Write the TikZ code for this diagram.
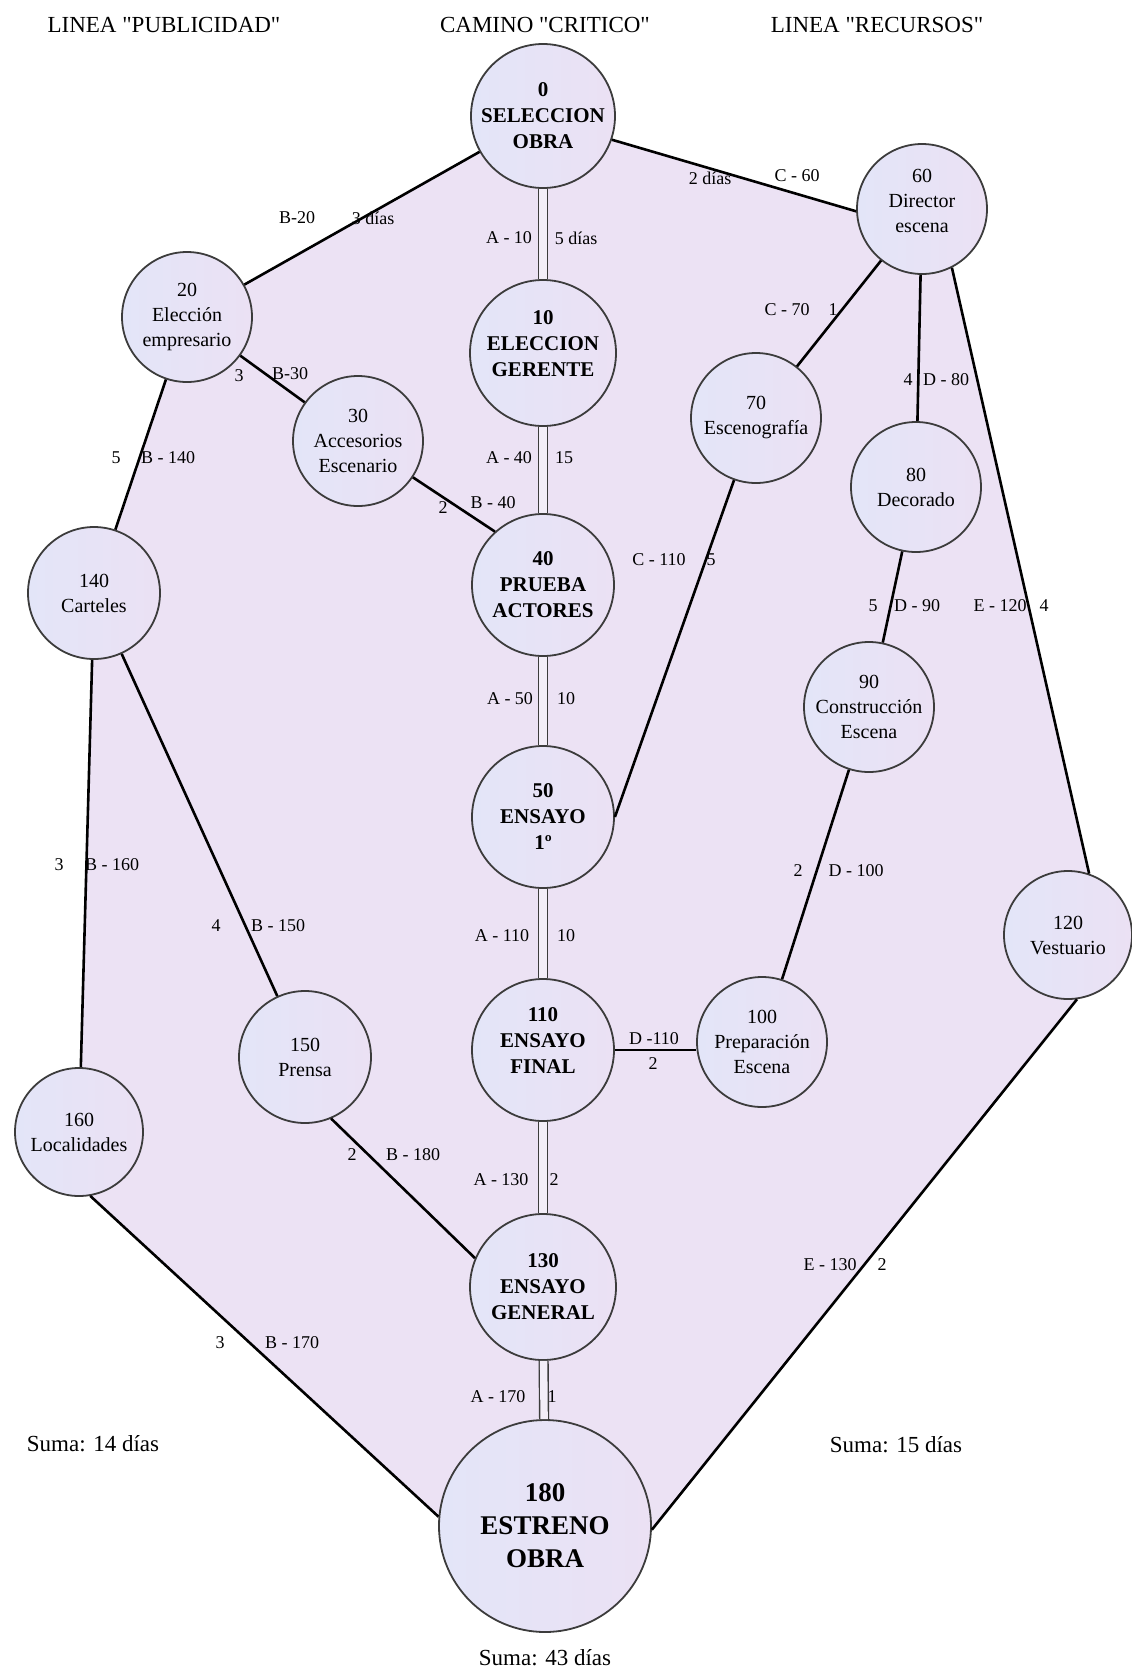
\documentclass[tikz,border=0pt]{standalone}
\usepackage{fontspec}
\setmainfont{Liberation Serif}
\newfontfamily\qfont{Liberation Serif}
\usetikzlibrary{calc}
\definecolor{polyC}{HTML}{ECE2F4}
\definecolor{nodeL}{HTML}{E3E5F8}
\definecolor{nodeR}{HTML}{EBE1F4}
\definecolor{rimC}{HTML}{3C3C3C}
\definecolor{gapC}{HTML}{F3EEF8}
\pgfdeclarelayer{bg}
\pgfsetlayers{bg,main}
\newcommand{\uptext}[1]{\smash{\raisebox{1pt}{\begin{tabular}{@{}c@{}}#1\end{tabular}}}}
\begin{document}
\begin{tikzpicture}[x=0.5pt,y=-0.5pt,
  ev/.style={circle, draw=rimC, line width=0.9pt, left color=nodeL, right color=nodeR, inner sep=0pt, minimum size=65pt, align=center, font=\fontsize{10}{12.5}\selectfont},
  crit/.style={ev, minimum size=72pt, font=\fontsize{10.5}{13}\selectfont\bfseries},
  lnk/.style={line width=1.3pt, black},
  dbl/.style={draw=rimC, line width=0.7pt, double=gapC, double distance=3.7pt},
  lab/.style={font=\fontsize{9}{10}\selectfont, inner sep=1pt},
  ttl/.style={font=\qfont\fontsize{11.5}{13}\selectfont},
]
\useasboundingbox (0,0) rectangle (1131,1671);

% critical path
\node[crit] (N0) at (543,116) {0\\SELECCION\\OBRA};
\node[crit, minimum size=73pt] (N10) at (543,353) {\uptext{10\\ELECCION\\GERENTE}};
\node[crit, minimum size=71pt] (N40) at (543,585) {40\\PRUEBA\\ACTORES};
\node[crit, minimum size=71pt] (N50) at (543,817) {50\\ENSAYO\\1º};
\node[crit, minimum size=71pt] (N110) at (543,1050) {\uptext{110\\ENSAYO\\FINAL}};
\node[crit, minimum size=73pt] (N130) at (543,1287) {130\\ENSAYO\\GENERAL};
\node[crit, minimum size=106pt, font=\fontsize{13.5}{16.5}\selectfont\bfseries] (N180) at (545,1526) {180\\ESTRENO\\OBRA};

% publicidad
\node[ev] (N20) at (187,317) {20\\Elección\\empresario};
\node[ev] (N30) at (358,441) {30\\Accesorios\\Escenario};
\node[ev, minimum size=66pt] (N140) at (94,593) {140\\Carteles};
\node[ev, minimum size=66pt] (N150) at (305,1057) {150\\Prensa};
\node[ev, minimum size=64pt] (N160) at (79,1132) {160\\Localidades};

% recursos
\node[ev] (N60) at (922,209) {\uptext{60\\Director\\escena}};
\node[ev] (N70) at (756,418) {70\\Escenografía};
\node[ev] (N80) at (916,487) {80\\Decorado};
\node[ev] (N90) at (869,707) {90\\Construcción\\Escena};
\node[ev] (N100) at (762,1042) {100\\Preparación\\Escena};
\node[ev, minimum size=64pt] (N120) at (1068,935) {120\\Vestuario};

% background polygon
\begin{pgfonlayer}{bg}
\fill[polyC] (N0.center) -- (N0.-19) -- (N60.182) -- (N60.center) -- (N60.-63) -- (N120.71) -- (N120.center)
  -- (N120.-82) -- (N180.-2) -- (N180.175) -- (N160.-80) -- (N160.center)
  -- (N140.center) -- (N20.center) -- cycle;
\end{pgfonlayer}

% critical double lines
\draw[dbl] (N0) -- (N10);
\draw[dbl] (N10) -- (N40);
\draw[dbl] (N40) -- (N50);
\draw[dbl] (N50) -- (N110);
\draw[dbl] (N110) -- (N130);
\draw[dbl] (N130) -- (N180);

% publicidad lines
\draw[lnk] (N0) -- (N20);
\draw[lnk] (N20) -- (N30);
\draw[lnk] (N30) -- (N40.132);
\draw[lnk] (N20) -- (N140);
\draw[lnk] (N140) -- (N160);
\draw[lnk] (N140) -- (N150);
\draw[lnk] (N150.-67) -- (N130.157);
\draw[lnk] (N160.-80) -- (N180.175);

% recursos lines
\draw[lnk] (N0.-19) -- (N60.182);
\draw[lnk] (N60) -- (N70);
\draw[lnk] (N60) -- (N80);
\draw[lnk] (N60.-63) -- (N120.71);
\draw[lnk] (N70) -- (N50.east);
\draw[lnk] (N80) -- (N90);
\draw[lnk] (N90) -- (N100);
\draw[lnk] (N110.east) -- (N110.east -| N100.west);
\draw[lnk] (N120.-82) -- (N180.-2);

% labels
\node[lab] (l1) at (297,218) {B-20};
\node[lab] (l2) at (373,218) {3 días};
\node[lab] (l3) at (509,238) {A - 10};
\node[lab] (l4) at (576,238) {5 días};
\node[lab] (l5) at (710,178) {2 días};
\node[lab] (l6) at (797,176) {C - 60};
\node[lab] (l7) at (239,376) {3};
\node[lab] (l8) at (290,374) {B-30};
\node[lab] (l9) at (116,458) {5};
\node[lab] (l10) at (168,458) {B - 140};
\node[lab] (l11) at (509,458) {A - 40};
\node[lab] (l12) at (564,458) {15};
\node[lab] (l13) at (443,508) {2};
\node[lab] (l14) at (493,503) {B - 40};
\node[lab] (l15) at (787,310) {C - 70};
\node[lab] (l16) at (833,310) {1};
\node[lab] (l17) at (908,380) {4};
\node[lab] (l18) at (946,380) {D - 80};
\node[lab] (l19) at (659,560) {C - 110};
\node[lab] (l20) at (711,560) {5};
\node[lab] (l21) at (873,606) {5};
\node[lab] (l22) at (917,606) {D - 90};
\node[lab] (l23) at (1000,606) {E - 120};
\node[lab] (l24) at (1044,606) {4};
\node[lab] (l25) at (510,699) {A - 50};
\node[lab] (l26) at (566,699) {10};
\node[lab] (l27) at (59,865) {3};
\node[lab] (l28) at (112,865) {B - 160};
\node[lab] (l29) at (216,926) {4};
\node[lab] (l30) at (278,926) {B - 150};
\node[lab] (l31) at (502,936) {A - 110};
\node[lab] (l32) at (566,936) {10};
\node[lab] (l33) at (798,871) {2};
\node[lab] (l34) at (856,871) {D - 100};
\node[lab] (l35) at (654,1039) {D -110};
\node[lab] (l36) at (653,1064) {2};
\node[lab] (l37) at (352,1155) {2};
\node[lab] (l38) at (413,1155) {B - 180};
\node[lab] (l39) at (501,1180) {A - 130};
\node[lab] (l40) at (554,1180) {2};
\node[lab] (l41) at (830,1265) {E - 130};
\node[lab] (l42) at (882,1265) {2};
\node[lab] (l43) at (220,1343) {3};
\node[lab] (l44) at (292,1343) {B - 170};
\node[lab] (l45) at (498,1397) {A - 170};
\node[lab] (l46) at (552,1397) {1};

% titles and sums
\node[ttl] (t1) at (164,25) {LINEA "PUBLICIDAD"};
\node[ttl] (t2) at (545,25) {CAMINO "CRITICO"};
\node[ttl] (t3) at (877,25) {LINEA "RECURSOS"};
\node[ttl] (s1) at (93,1444) {Suma: 14 días};
\node[ttl] (s2) at (896,1445) {Suma: 15 días};
\node[ttl] (s3) at (545,1658) {Suma: 43 días};
\end{tikzpicture}
\end{document}
